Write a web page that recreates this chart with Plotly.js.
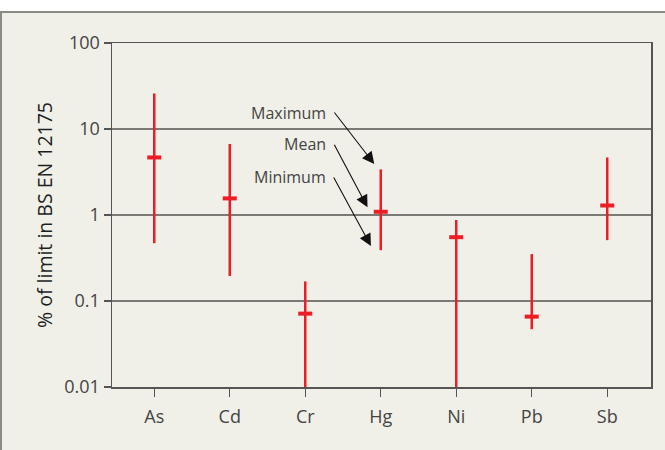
<!DOCTYPE html>
<html>
<head>
<meta charset="utf-8">
<script src="https://cdn.plot.ly/plotly-3.0.1.min.js"></script>
<style>
  html, body { margin: 0; padding: 0; background: #ffffff; }
  #wrap { position: absolute; left: 0; top: 11px; width: 663px; height: 437px;
          border-top: 2px solid #8a8a86; border-left: 2px solid #8a8a86; background: #f0f0e8; }
  #chart { width: 663px; height: 437px; }
</style>
</head>
<body>
<div id="wrap"><div id="chart"></div></div>
<script>
const elements = ['As', 'Cd', 'Cr', 'Hg', 'Ni', 'Pb', 'Sb'];
const maxVals  = [25.9, 6.7, 0.169, 3.39, 0.875, 0.351, 4.67];
const meanVals = [4.67, 1.56, 0.0713, 1.09, 0.552, 0.0658, 1.29];
const minVals  = [0.47, 0.195, 0.01, 0.39, 0.01, 0.047, 0.51];
const yTickVals = [0.01, 0.1, 1, 10, 100];
const yTickText = ['0.01', '0.1', '1', '10', '100'];

const red = '#ee1d25';
const font = 'Open Sans, Noto Sans, sans-serif';

const trace = {
  type: 'scatter',
  mode: 'markers',
  x: elements,
  y: meanVals,
  marker: { symbol: 'line-ew', size: 10, color: red, line: { color: red, width: 4 } },
  error_y: {
    type: 'data', symmetric: false,
    array: maxVals.map((v, i) => v - meanVals[i]),
    arrayminus: minVals.map((v, i) => meanVals[i] - v),
    color: red, thickness: 2.5, width: 0
  },
  hoverinfo: 'x+y',
  showlegend: false,
  cliponaxis: true
};

const labelFont = { family: font, size: 16, color: '#444444' };
const annotations = [
  { x: 2.305, y: 1.19, xref: 'x', yref: 'y', text: 'Maximum', showarrow: false, xanchor: 'right', yanchor: 'middle', font: labelFont },
  { x: 2.305, y: 0.826, xref: 'x', yref: 'y', text: 'Mean', showarrow: false, xanchor: 'right', yanchor: 'middle', font: labelFont },
  { x: 2.305, y: 0.445, xref: 'x', yref: 'y', text: 'Minimum', showarrow: false, xanchor: 'right', yanchor: 'middle', font: labelFont },
  { x: 2.914, y: 0.593, xref: 'x', yref: 'y', text: '', showarrow: true, ax: -41, ay: -53, arrowhead: 2, arrowwidth: 1.1, arrowsize: 2.2, arrowcolor: '#111111', standoff: 0 },
  { x: 2.825, y: 0.0895, xref: 'x', yref: 'y', text: '', showarrow: true, ax: -34, ay: -64, arrowhead: 2, arrowwidth: 1.1, arrowsize: 2.2, arrowcolor: '#111111', standoff: 0 },
  { x: 2.870, y: -0.360, xref: 'x', yref: 'y', text: '', showarrow: true, ax: -38, ay: -70, arrowhead: 2, arrowwidth: 1.1, arrowsize: 2.2, arrowcolor: '#111111', standoff: 0 }
];

const layout = {
  width: 663, height: 437,
  margin: { l: 110, r: 14, t: 30, b: 63 },
  paper_bgcolor: '#f0f0e8',
  plot_bgcolor: '#f0f0e8',
  font: { family: font, color: '#444444' },
  xaxis: {
    type: 'category',
    range: [-0.56, 6.58],
    showgrid: false,
    zeroline: false,
    showline: true, linecolor: '#555555', linewidth: 1.5, mirror: true,
    ticks: 'outside', ticklen: 8, tickwidth: 1.2, tickcolor: '#555555',
    ticklabelstandoff: 5,
    tickfont: { family: font, size: 18, color: '#444444' },
    fixedrange: true
  },
  yaxis: {
    type: 'log',
    range: [-2, 2],
    tickvals: yTickVals,
    ticktext: yTickText,
    showgrid: true, gridcolor: '#7a7a74', gridwidth: 1.5,
    zeroline: false,
    showline: true, linecolor: '#555555', linewidth: 1.5, mirror: true,
    ticks: 'outside', ticklen: 7, tickwidth: 1.2, tickcolor: '#555555',
    tickfont: { family: font, size: 18, color: '#444444' },
    title: { text: '% of limit in BS EN 12175', font: { family: font, size: 19.5, color: '#1e1e1e' }, standoff: 6 },
    fixedrange: true
  },
  annotations: annotations,
  showlegend: false
};

Plotly.newPlot('chart', [trace], layout, { displayModeBar: false, staticPlot: true });
</script>
</body>
</html>
